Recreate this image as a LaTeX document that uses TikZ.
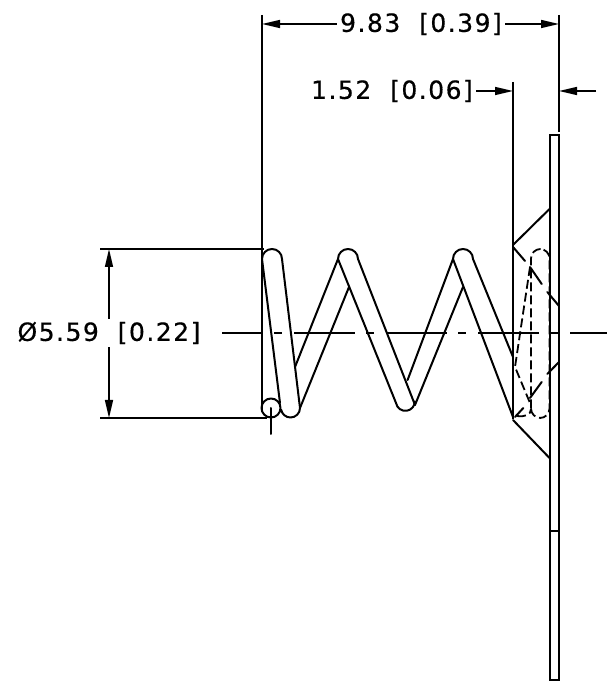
\documentclass[tikz,border=0pt]{standalone}
\usepackage{fontspec}
\setmainfont[LetterSpace=6,FakeBold=0.5]{DejaVu Sans}
\usetikzlibrary{arrows.meta}
\tikzset{
  wire/.style={line width=2pt, line cap=round, line join=round},
  hidden/.style={line width=1.8pt, dash pattern=on 9pt off 4pt},
  dimline/.style={line width=1.5pt, -{Triangle[length=18pt,width=8pt]}},
  extline/.style={line width=2pt},
  dimtext/.style={inner sep=3pt, font=\fontsize{25}{25}\selectfont},
}
\begin{document}
\begin{tikzpicture}[x=1pt, y=1pt]
\useasboundingbox (0, 0) rectangle (607, 681);
% extension lines
\coordinate (totalleft) at (262, 666);
\coordinate (totalright) at (559, 666);
\coordinate (gapleft) at (513, 599);
\coordinate (diatop) at (100, 432);
\coordinate (diabot) at (100, 263);
\coordinate (gapend) at (596, 590);
\draw [extline] (totalleft) -- (262, 271);
\draw [extline] (totalright) -- (559, 549);
\draw [extline] (gapleft) -- (513, 262);
\draw [extline] (diatop) -- (264, 432);
\draw [extline] (diabot) -- (267, 263);
% dimensions
\node [dimtext] (dimtotal) at (421, 657) {9.83\ \ [0.39]};
\node [dimtext] (dimgap) at (392, 590) {1.52\ \ [0.06]};
\node [dimtext] (dimdia) at (109, 348) {Ø5.59\ \ [0.22]};
\draw [dimline] (dimtotal.west) -- (dimtotal.west -| totalleft);
\draw [dimline] (dimtotal.east) -- (dimtotal.east -| totalright);
\draw [dimline] (dimgap.east) -- (dimgap.east -| gapleft);
\draw [dimline] (gapend) -- (gapend -| totalright);
\draw [dimline] (dimdia.north) -- (dimdia.north |- diatop);
\draw [dimline] (dimdia.south) -- (dimdia.south |- diabot);
% plate
\draw [extline] (550, 1) rectangle (559, 546);
\draw [extline] (550, 150) -- (559, 150);
% cone
\draw [wire] (549.5, 472) -- (513, 436);
\draw [wire] (549.5, 223) -- (513, 261);
\draw [wire] (513, 434) -- (525, 420);
\draw [wire] (530, 414) -- (541.7, 397);
\draw [wire] (547.3, 389) -- (559, 375);
\draw [wire] (515, 264) -- (523.3, 273);
\draw [wire] (530, 283) -- (541.7, 299);
\draw [wire] (547.3, 307) -- (559, 319);
% spring
\draw [wire] (271, 273) circle (9.5);
\draw [wire] (280, 278) -- (262, 422) arc (180:0:10) -- (300, 273) arc (0:-170:9.5);
\draw [wire] (300, 273) -- (349, 394);
\draw [wire] (295, 314) -- (338, 422) arc (180:0:10) -- (415, 276);
\draw [wire] (338, 422) -- (396, 278) arc (190:360:9.5);
\draw [wire] (415, 276) -- (463, 394);
\draw [wire] (407.6, 301) -- (453, 422) arc (180:0:10) -- (513, 324);
\draw [wire] (453, 422) -- (513, 264);
\draw [wire] (271, 273) -- (271, 247);
% hidden wire
\draw [hidden, rounded corners=9.5pt] (531, 263) rectangle (549.5, 432);
\draw [hidden] (530, 414) -- (515, 314) -- (530, 278);
\draw [hidden] (517, 265) .. controls (525, 264) and (531, 266) .. (531, 272);
% centre line
\draw [extline, dash pattern=on 61pt off 11pt on 8pt off 12pt, dash phase=20pt] (222, 348) -- (607, 348);
\end{tikzpicture}
\end{document}
